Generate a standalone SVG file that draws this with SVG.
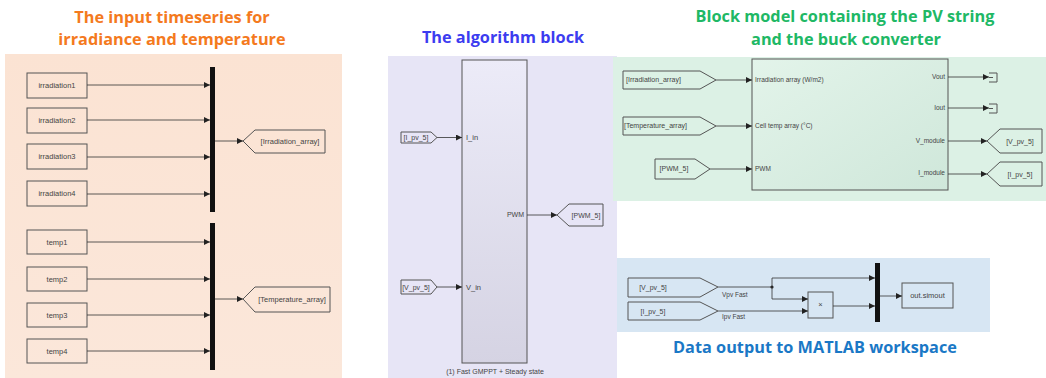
<svg xmlns="http://www.w3.org/2000/svg" width="1046" height="378" viewBox="0 0 1046 378">
<defs>
<linearGradient id="gMid" x1="0" y1="0" x2="0" y2="1"><stop offset="0" stop-color="#ecebf8"/><stop offset="1" stop-color="#d5d3e3"/></linearGradient>
<linearGradient id="gGreen" x1="0" y1="0" x2="1" y2="1"><stop offset="0" stop-color="#e3f4ea"/><stop offset="1" stop-color="#cfe7da"/></linearGradient>
<linearGradient id="gPeach" x1="0" y1="0" x2="0" y2="1"><stop offset="0" stop-color="#fbe3d3"/><stop offset="1" stop-color="#fbe7da"/></linearGradient>
<marker id="ah" markerWidth="6" markerHeight="6" refX="6" refY="3" orient="auto" markerUnits="userSpaceOnUse"><path d="M0,0 L6,3 L0,6 z" fill="#222"/></marker>
</defs>
<style>
.title{font-family:"Open Sans","DejaVu Sans",sans-serif;font-weight:bold;font-size:16.3px;text-anchor:middle}
.blk{fill:none;stroke:#555;stroke-width:1}
.blkf{stroke:#555;stroke-width:1}
.tag{fill:none;stroke:#555;stroke-width:1}
.t{font-family:"Liberation Sans",Arial,sans-serif;font-size:7.5px;fill:#444}
.tc{font-family:"Liberation Sans",Arial,sans-serif;font-size:7.5px;fill:#444;text-anchor:middle}
.tr{font-family:"Liberation Sans",Arial,sans-serif;font-size:7px;fill:#444;text-anchor:end}
.ln{fill:none;stroke:#333;stroke-width:0.8}
.bar{fill:#111}
</style>
<rect width="1046" height="378" fill="#ffffff"/>
<!-- panels -->
<rect x="5" y="54" width="337" height="324" fill="url(#gPeach)"/>
<rect x="388" y="56" width="229" height="322" fill="#e7e5f6"/>
<rect x="613" y="57" width="433" height="144" fill="#dcf1e5"/>
<rect x="617" y="258" width="373" height="74" fill="#d7e6f3"/>
<!-- titles -->
<text class="title" x="172" y="23" fill="#f47a1e">The input timeseries for</text>
<text class="title" x="172" y="45" fill="#f47a1e">irradiance and temperature</text>
<text class="title" x="503" y="43" fill="#3c3cf0">The algorithm block</text>
<text class="title" x="845" y="22" fill="#20b865">Block model containing the PV string</text>
<text class="title" x="846" y="45" fill="#20b865">and the buck converter</text>
<text class="title" x="815" y="353" fill="#1a78c6">Data output to MATLAB workspace</text>

<g id="irradiation1"><rect class="blk" x="27" y="73" width="60" height="25"/><text class="tc" x="57" y="88">irradiation1</text></g>
<g id="irradiation2"><rect class="blk" x="27" y="108" width="60" height="25"/><text class="tc" x="57" y="123">irradiation2</text></g>
<g id="irradiation3"><rect class="blk" x="27" y="144" width="60" height="25"/><text class="tc" x="57" y="159">irradiation3</text></g>
<g id="irradiation4"><rect class="blk" x="27" y="181" width="60" height="25"/><text class="tc" x="57" y="196">irradiation4</text></g>
<g id="mux-irr"><rect class="bar" x="210" y="67" width="5" height="145"/></g>
<g id="goto-irr"><path class="tag" d="M243,141 L255,130 L325,130 L325,153 L255,153 Z"/><text class="tc" x="290" y="144">[Irradiation_array]</text></g>

<g id="temp1"><rect class="blk" x="27" y="230" width="60" height="24"/><text class="tc" x="57" y="245">temp1</text></g>
<g id="temp2"><rect class="blk" x="27" y="267" width="60" height="24"/><text class="tc" x="57" y="282">temp2</text></g>
<g id="temp3"><rect class="blk" x="27" y="303" width="60" height="24"/><text class="tc" x="57" y="318">temp3</text></g>
<g id="temp4"><rect class="blk" x="27" y="339" width="60" height="24"/><text class="tc" x="57" y="354">temp4</text></g>
<g id="mux-temp"><rect class="bar" x="210" y="223" width="5" height="147"/></g>
<g id="goto-temp"><path class="tag" d="M243,299 L255,287 L330,287 L330,312 L255,312 Z"/><text class="tc" x="292" y="302">[Temperature_array]</text></g>

<g id="algorithm"><rect class="blkf" x="462" y="60" width="65" height="303" fill="url(#gMid)"/>
<text class="t" x="466" y="140">I_in</text><text class="t" x="466" y="290">V_in</text><text class="tr" x="524" y="217">PWM</text>
<text class="tc" x="495" y="374" style="font-size:7px">(1) Fast GMPPT + Steady state</text></g>
<g id="from-ipv-alg"><path class="tag" d="M401,132 L431,132 L437,137.5 L431,143 L401,143 Z"/><text class="tc" x="416" y="140" style="font-size:7px">[I_pv_5]</text></g>
<g id="from-vpv-alg"><path class="tag" d="M401,280 L431,280 L437,287 L431,294 L401,294 Z"/><text class="tc" x="416" y="290" style="font-size:7px">[V_pv_5]</text></g>
<g id="goto-pwm"><path class="tag" d="M557,215 L569,204 L603,204 L603,226 L569,226 Z"/><text class="tc" x="586" y="218" style="font-size:7px">[PWM_5]</text></g>

<g id="pv-block"><rect class="blkf" x="752" y="59" width="196" height="131" fill="url(#gGreen)"/>
<text class="t" x="755" y="82" style="font-size:6.5px">Irradiation array (W/m2)</text>
<text class="t" x="755" y="128" style="font-size:6.5px">Cell temp array (°C)</text>
<text class="t" x="755" y="171" style="font-size:6.5px">PWM</text>
<text class="tr" x="945" y="79" style="font-size:6.5px">Vout</text>
<text class="tr" x="945" y="110" style="font-size:6.5px">Iout</text>
<text class="tr" x="945" y="143" style="font-size:6.5px">V_module</text>
<text class="tr" x="945" y="175" style="font-size:6.5px">I_module</text></g>
<g id="from-irr"><path class="tag" d="M623,71 L700,71 L716,80 L700,89 L623,89 Z"/><text class="t" x="626" y="82" style="font-size:7px">[Irradiation_array]</text></g>
<g id="from-temp"><path class="tag" d="M623,117 L700,117 L716,126 L700,135 L623,135 Z"/><text class="t" x="624" y="128" style="font-size:7px">[Temperature_array]</text></g>
<g id="from-pwm"><path class="tag" d="M655,159 L695,159 L710,169 L695,179 L655,179 Z"/><text class="tc" x="674" y="171" style="font-size:7px">[PWM_5]</text></g>
<g id="term-vout"><path class="tag" d="M989,73 L997,73 L997,82 L989,82 M989,77.5 L993,77.5"/></g>
<g id="term-iout"><path class="tag" d="M989,104 L997,104 L997,113 L989,113 M989,108.5 L993,108.5"/></g>
<g id="goto-vpv"><path class="tag" d="M987,141 L1000,129 L1042,129 L1042,153 L1000,153 Z"/><text class="tc" x="1020" y="144" style="font-size:7px">[V_pv_5]</text></g>
<g id="goto-ipv"><path class="tag" d="M987,174 L1000,162 L1042,162 L1042,186 L1000,186 Z"/><text class="tc" x="1020" y="177" style="font-size:7px">[I_pv_5]</text></g>

<g id="from-vpv-out"><path class="tag" d="M628,278 L700,278 L718,287 L700,297 L628,297 Z"/><text class="tc" x="653" y="290" style="font-size:7px">[V_pv_5]</text></g>
<g id="from-ipv-out"><path class="tag" d="M628,302 L700,302 L718,311 L700,320 L628,320 Z"/><text class="tc" x="653" y="314" style="font-size:7px">[I_pv_5]</text></g>
<g id="product"><rect class="blk" x="808" y="292" width="25" height="26"/><text class="tc" x="820.5" y="307">×</text></g>
<g id="mux-out"><rect class="bar" x="875" y="263" width="5" height="59"/></g>
<g id="out-simout"><rect class="blk" x="902" y="283" width="51" height="25"/><text class="tc" x="927.5" y="298">out.simout</text></g>

<g id="connectors">
<path class="ln" marker-end="url(#ah)" d="M87,85 L210,85"/>
<path class="ln" marker-end="url(#ah)" d="M87,120 L210,120"/>
<path class="ln" marker-end="url(#ah)" d="M87,157 L210,157"/>
<path class="ln" marker-end="url(#ah)" d="M87,194 L210,194"/>
<path class="ln" marker-end="url(#ah)" d="M215,141 L243,141"/>
<path class="ln" marker-end="url(#ah)" d="M87,242 L210,242"/>
<path class="ln" marker-end="url(#ah)" d="M87,279 L210,279"/>
<path class="ln" marker-end="url(#ah)" d="M87,315 L210,315"/>
<path class="ln" marker-end="url(#ah)" d="M87,351 L210,351"/>
<path class="ln" marker-end="url(#ah)" d="M215,299 L243,299"/>
<path class="ln" marker-end="url(#ah)" d="M437,137.5 L462,137.5"/>
<path class="ln" marker-end="url(#ah)" d="M437,287 L462,287"/>
<path class="ln" marker-end="url(#ah)" d="M527,215 L557,215"/>
<path class="ln" marker-end="url(#ah)" d="M716,80 L752,80"/>
<path class="ln" marker-end="url(#ah)" d="M716,126 L752,126"/>
<path class="ln" marker-end="url(#ah)" d="M710,169 L752,169"/>
<path class="ln" marker-end="url(#ah)" d="M948,77 L989,77"/>
<path class="ln" marker-end="url(#ah)" d="M948,108 L989,108"/>
<path class="ln" marker-end="url(#ah)" d="M948,141 L987,141"/>
<path class="ln" marker-end="url(#ah)" d="M948,174 L987,174"/>
<path class="ln" d="M718,287 L772,287"/>
<circle cx="772" cy="287" r="1.6" fill="#222"/>
<path class="ln" marker-end="url(#ah)" d="M772,287 L772,278 L875,278"/>
<path class="ln" marker-end="url(#ah)" d="M772,287 L772,299 L808,299"/>
<path class="ln" marker-end="url(#ah)" d="M718,311 L808,311"/>
<path class="ln" marker-end="url(#ah)" d="M833,306 L875,306"/>
<path class="ln" marker-end="url(#ah)" d="M880,296 L902,296"/>
<text class="t" x="722" y="297" style="font-size:6.5px">Vpv Fast</text>
<text class="t" x="722" y="319" style="font-size:6.5px">Ipv Fast</text>
</g>
</svg>
